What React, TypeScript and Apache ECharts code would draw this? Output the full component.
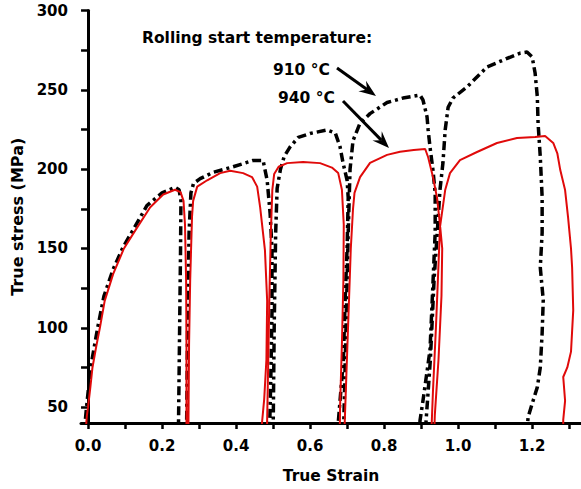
import React, { useEffect, useRef } from "react";
import * as echarts from "echarts";

// ---- axis ticks / labels ----
const xTickValues = [0, 0.1, 0.2, 0.3, 0.4, 0.5, 0.6, 0.7, 0.8, 0.9, 1.0, 1.1, 1.2, 1.3];
const xLabelValues = [0, 0.2, 0.4, 0.6, 0.8, 1.0, 1.2];
const yTickValues = [50, 75, 100, 125, 150, 175, 200, 225, 250, 275, 300];
const yLabelValues = [50, 100, 150, 200, 250, 300];

// ---- 910 °C (black dash-dot) : [true strain, true stress MPa] ----
const curve910: [number, number][] = [
  [-0.012, 30], [-0.004, 50], [0.007, 75], [0.026, 100], [0.043, 120], [0.068, 137], [0.095, 151],
  [0.125, 163], [0.159, 177], [0.2, 185], [0.235, 188.5], [0.246, 187], [0.251, 180], [0.25, 150],
  [0.248, 110], [0.246, 70], [0.244, 30],
  [0.266, 30], [0.269, 100], [0.273, 160], [0.278, 185], [0.285, 191], [0.303, 194], [0.338, 198],
  [0.392, 201.5], [0.446, 205.5], [0.473, 205.5], [0.484, 193], [0.492, 172], [0.497, 150],
  [0.497, 110], [0.494, 70], [0.49, 30],
  [0.5, 30], [0.503, 100], [0.507, 160], [0.511, 188], [0.52, 200], [0.53, 208], [0.546, 214],
  [0.568, 220], [0.6, 222.5], [0.646, 224.7], [0.668, 222.8], [0.681, 214], [0.689, 204], [0.7, 193],
  [0.703, 182], [0.7, 150], [0.695, 120], [0.69, 80], [0.676, 40], [0.673, 30],
  [0.69, 30], [0.697, 100], [0.703, 160], [0.708, 200], [0.716, 218], [0.735, 229], [0.762, 235],
  [0.808, 242], [0.851, 244.8], [0.897, 246.7], [0.905, 243.6], [0.916, 233], [0.919, 224.7],
  [0.924, 214], [0.932, 199.4], [0.938, 185], [0.938, 160], [0.93, 117.5], [0.924, 86], [0.905, 54],
  [0.897, 41.5], [0.895, 30],
  [0.91, 30], [0.925, 80], [0.935, 130], [0.945, 165], [0.951, 187], [0.959, 204], [0.965, 224.7],
  [0.973, 239], [0.986, 244.8], [1.024, 251.8], [1.078, 264.4], [1.122, 268.8], [1.168, 273.2],
  [1.186, 273.8], [1.2, 270.7], [1.208, 260.6], [1.214, 245.5], [1.216, 229], [1.222, 207.6],
  [1.227, 182.4], [1.227, 160], [1.222, 138], [1.23, 117.5], [1.227, 96.7], [1.222, 75],
  [1.214, 62.6], [1.203, 54.4], [1.189, 43.7], [1.185, 30],
];

// ---- 940 °C (red solid) ----
const curve940: [number, number][] = [
  [-0.008, 30], [-0.003, 45], [0.0, 50], [0.006, 62], [0.012, 75], [0.022, 88], [0.032, 100],
  [0.045, 117], [0.068, 134], [0.097, 150], [0.132, 163], [0.168, 176], [0.203, 184], [0.235, 187],
  [0.25, 185.5], [0.258, 180], [0.262, 165], [0.265, 130], [0.266, 90], [0.266, 30],
  [0.271, 30], [0.273, 90], [0.276, 130], [0.281, 170], [0.284, 180], [0.295, 189], [0.322, 193],
  [0.357, 197.5], [0.384, 199], [0.419, 197.5], [0.443, 195], [0.457, 189], [0.465, 176],
  [0.478, 149], [0.484, 117], [0.482, 80], [0.476, 55], [0.47, 40], [0.47, 30],
  [0.483, 30], [0.487, 80], [0.49, 120], [0.494, 160], [0.498, 187], [0.503, 197], [0.515, 201.5],
  [0.538, 203.8], [0.581, 204.5], [0.627, 203.8], [0.659, 201], [0.676, 197.5], [0.686, 187],
  [0.691, 165], [0.69, 130], [0.686, 90], [0.681, 50], [0.68, 30],
  [0.692, 30], [0.698, 70], [0.704, 110], [0.71, 150], [0.716, 175], [0.72, 185], [0.735, 195],
  [0.762, 204], [0.808, 209], [0.843, 211], [0.88, 212], [0.911, 212.7], [0.919, 207.5],
  [0.932, 195], [0.943, 182], [0.951, 165], [0.957, 150], [0.955, 120], [0.947, 80], [0.937, 45],
  [0.935, 30],
  [0.927, 30], [0.932, 60], [0.94, 100], [0.947, 140], [0.951, 163.5], [0.965, 186.8],
  [0.978, 197.5], [1.005, 205.7], [1.051, 210.8], [1.105, 216.5], [1.159, 219.6], [1.208, 220.2],
  [1.235, 220.9], [1.257, 216.5], [1.268, 210], [1.276, 199.4], [1.289, 186.8], [1.297, 169.8],
  [1.305, 150], [1.308, 138], [1.311, 111], [1.305, 85], [1.295, 75], [1.284, 69], [1.289, 54],
  [1.284, 42], [1.284, 30],
];

const FONT = "'DejaVu Sans', Verdana, sans-serif";

function arrow(x1: number, y1: number, x2: number, y2: number) {
  const dx = x2 - x1;
  const dy = y2 - y1;
  const len = Math.sqrt(dx * dx + dy * dy);
  const ux = dx / len;
  const uy = dy / len;
  const nx = -uy;
  const ny = ux;
  const headLen = 17;
  const halfW = 6.5;
  const notch = 11;
  const bx = x2 - headLen * ux;
  const by = y2 - headLen * uy;
  return [
    {
      type: "line",
      shape: { x1, y1, x2: x2 - notch * ux, y2: y2 - notch * uy },
      style: { stroke: "#000", lineWidth: 3 },
      silent: true,
    },
    {
      type: "polygon",
      shape: {
        points: [
          [x2, y2],
          [bx + halfW * nx, by + halfW * ny],
          [x2 - notch * ux, y2 - notch * uy],
          [bx - halfW * nx, by - halfW * ny],
        ],
      },
      style: { fill: "#000" },
      silent: true,
    },
  ];
}

export default function App() {
  const ref = useRef<HTMLDivElement>(null);

  useEffect(() => {
    if (!ref.current) return;
    const chart = echarts.init(ref.current, undefined, { renderer: "svg" });
    const labelStyle = { color: "#000", fontFamily: FONT, fontWeight: "bold" as const, fontSize: 15 };
    const annFont = `bold 15.5px ${FONT}`;
    chart.setOption({
      animation: false,
      backgroundColor: "#fff",
      grid: { left: 81, right: 0, top: 10.5, bottom: 66, containLabel: false },
      xAxis: {
        type: "value",
        min: -0.019,
        max: 1.332,
        name: "True Strain",
        nameLocation: "middle",
        nameGap: 45,
        nameTextStyle: { ...labelStyle, fontSize: 15.5, verticalAlign: "top" },
        axisLine: { show: true, lineStyle: { color: "#000", width: 3 } },
        axisTick: {
          show: true,
          customValues: xTickValues,
          length: 6,
          inside: false,
          lineStyle: { color: "#000", width: 2.5 },
        },
        axisLabel: {
          customValues: xLabelValues,
          formatter: (v: number) => v.toFixed(1),
          margin: 15,
          ...labelStyle,
        },
        splitLine: { show: false },
      },
      yAxis: {
        type: "value",
        min: 40,
        max: 300,
        name: "True stress (MPa)",
        nameLocation: "middle",
        nameGap: 55,
        nameTextStyle: { ...labelStyle, fontSize: 16 },
        axisLine: { show: true, lineStyle: { color: "#000", width: 3 } },
        axisTick: {
          show: true,
          customValues: yTickValues,
          length: 7,
          inside: false,
          lineStyle: { color: "#000", width: 2.5 },
        },
        axisLabel: {
          customValues: yLabelValues,
          margin: 13,
          ...labelStyle,
        },
        splitLine: { show: false },
      },
      series: [
        {
          name: "910 °C",
          type: "line",
          data: curve910,
          showSymbol: false,
          symbol: "none",
          clip: true,
          lineStyle: { color: "#000", width: 3.5, type: [9, 4, 3, 4], cap: "butt" },
          z: 2,
        },
        {
          name: "940 °C",
          type: "line",
          data: curve940,
          showSymbol: false,
          symbol: "none",
          clip: true,
          lineStyle: { color: "#e00a0a", width: 2, type: "solid" },
          z: 3,
        },
      ],
      graphic: [
        {
          type: "text",
          x: 142,
          y: 38,
          style: {
            text: "Rolling start temperature:",
            fill: "#000",
            font: annFont,
            align: "left",
            verticalAlign: "middle",
          },
        },
        {
          type: "text",
          x: 273,
          y: 70,
          style: {
            text: "910 °C",
            fill: "#000",
            font: annFont,
            align: "left",
            verticalAlign: "middle",
          },
        },
        {
          type: "text",
          x: 278,
          y: 98,
          style: {
            text: "940 °C",
            fill: "#000",
            font: annFont,
            align: "left",
            verticalAlign: "middle",
          },
        },
        ...arrow(337, 68, 376, 96),
        ...arrow(343, 101, 389, 148),
      ],
    });
    return () => chart.dispose();
  }, []);

  return (
    <div
      ref={ref}
      style={{ position: "absolute", left: 0, top: 0, width: 581, height: 489 }}
    />
  );
}
